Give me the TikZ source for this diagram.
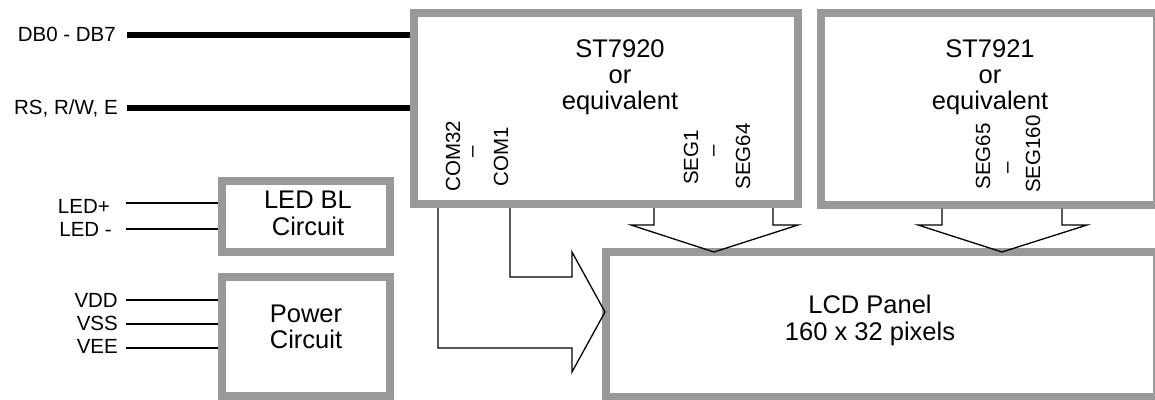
\documentclass[tikz,border=0pt]{standalone}
\usepackage{fontspec}
\setmainfont{Liberation Sans}
\definecolor{boxgray}{RGB}{153,153,153}
\tikzset{
 blk/.style={draw=boxgray, line width=8pt, fill=white, inner sep=0pt},
 big/.style={font=\fontsize{25.5}{26}\selectfont, inner sep=0pt, anchor=base},
 lbl/.style={font=\fontsize{20.5}{22}\selectfont, inner sep=0pt, anchor=base east},
 rot/.style={font=\fontsize{20.5}{22}\selectfont, inner sep=0pt, rotate=90, anchor=base},
 wire/.style={line width=1.3pt, black, line join=miter},
 bus/.style={line width=6pt, black},
}
\begin{document}
\begin{tikzpicture}[x=1pt,y=-1pt]
\useasboundingbox (0,0) rectangle (1155,399);
% boxes
\node[blk, minimum width=384pt, minimum height=191.5pt] (st7920) at (606,108.25) {};
\node[blk, minimum width=336pt, minimum height=192pt] (st7921) at (989,108.5) {};
\node[blk, minimum width=167.5pt, minimum height=71.5pt] (ledbl) at (305.75,216.25) {};
\node[blk, minimum width=167.5pt, minimum height=119pt] (power) at (305.75,336.5) {};
\node[blk, minimum width=551pt, minimum height=145pt] (lcd) at (881.5,324.5) {};
% box texts
\node[big] (ta1) at (620,57.5) {ST7920};
\node[big] (ta2) at (620,83.5) {or};
\node[big] (ta3) at (620,109.5) {equivalent};
\node[big] (tb1) at (990,57.5) {ST7921};
\node[big] (tb2) at (990,83.5) {or};
\node[big] (tb3) at (990,109.5) {equivalent};
\node[big] (tc1) at (308,208) {LED BL};
\node[big] (tc2) at (308,235) {Circuit};
\node[big] (td1) at (306,322) {Power};
\node[big] (td2) at (306,348) {Circuit};
\node[big] (te1) at (870,313) {LCD Panel};
\node[big] (te2) at (870,340) {160 x 32 pixels};
% rotated pin labels
\node[rot] (com32) at (460,156) {COM32};
\node[rot] (comd) at (478,152) {–};
\node[rot] (com1) at (508,156.5) {COM1};
\node[rot] (seg1) at (698,157.5) {SEG1};
\node[rot] (segd1) at (719,151) {–};
\node[rot] (seg64) at (750,156.5) {SEG64};
\node[rot] (seg65) at (990,156.5) {SEG65};
\node[rot] (segd2) at (1013,168) {–};
\node[rot] (seg160) at (1040,154) {SEG160};
% left labels
\node[lbl] (ldb) at (116,41.7) {DB0 - DB7};
\node[lbl] (lrs) at (118,114.5) {RS, R/W, E};
\node[lbl] (lledp) at (110,213) {LED+};
\node[lbl] (lledm) at (112,236) {LED -};
\node[lbl] (lvdd) at (118,307) {VDD};
\node[lbl] (lvss) at (118,330) {VSS};
\node[lbl] (lvee) at (118,353) {VEE};
% bus wires
\coordinate (pdb) at (127,35);
\coordinate (prs) at (127,108);
\draw[bus] (pdb) -- (pdb -| st7920.west);
\draw[bus] (prs) -- (prs -| st7920.west);
% thin wires
\coordinate (pl1) at (126,203);
\coordinate (pl2) at (126,229);
\coordinate (pp1) at (126,300);
\coordinate (pp2) at (126,324);
\coordinate (pp3) at (126,348);
\draw[wire] (pl1) -- (pl1 -| ledbl.west);
\draw[wire] (pl2) -- (pl2 -| ledbl.west);
\draw[wire] (pp1) -- (pp1 -| power.west);
\draw[wire] (pp2) -- (pp2 -| power.west);
\draw[wire] (pp3) -- (pp3 -| power.west);
% COM arrow
\coordinate (c1) at (510,277);
\coordinate (c32) at (438,348);
\coordinate (a1) at (572,277);
\coordinate (a2) at (572,252);
\coordinate (atip) at (605,312);
\coordinate (a3) at (572,372);
\coordinate (a4) at (572,348);
\draw[wire] (st7920.south -| c1) -- (c1) -- (a1) -- (a2) -- (atip) -- (a3) -- (a4) -- (c32) -- (st7920.south -| c32);
% SEG arrows
\coordinate (s1a) at (654,225);
\coordinate (s1b) at (631,225);
\coordinate (s1t) at (714,252);
\coordinate (s1c) at (798,225);
\coordinate (s1d) at (773,225);
\draw[wire] (st7920.south -| s1a) -- (s1a) -- (s1b) -- (s1t) -- (s1c) -- (s1d) -- (st7920.south -| s1d);
\coordinate (s2a) at (942,225);
\coordinate (s2b) at (918,225);
\coordinate (s2t) at (1002,252);
\coordinate (s2c) at (1087,225);
\coordinate (s2d) at (1062,225);
\draw[wire] (st7921.south -| s2a) -- (s2a) -- (s2b) -- (s2t) -- (s2c) -- (s2d) -- (st7921.south -| s2d);
\end{tikzpicture}
\end{document}
